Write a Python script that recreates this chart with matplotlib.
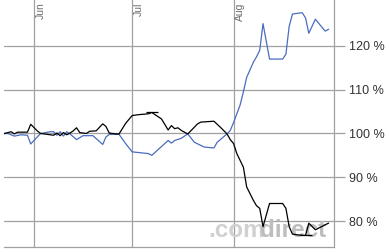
import numpy as np
import pandas as pd
import matplotlib
matplotlib.use("Agg")
import matplotlib.pyplot as plt
import matplotlib.dates as mdates

# ---- DATA (% of start value) ----
black_dates = [
    "2011-05-23", "2011-05-24", "2011-05-25", "2011-05-26", "2011-05-27", "2011-05-30",
    "2011-05-31", "2011-06-02", "2011-06-03", "2011-06-04", "2011-06-06", "2011-06-07",
    "2011-06-08", "2011-06-09", "2011-06-10", "2011-06-11", "2011-06-12", "2011-06-13",
    "2011-06-14", "2011-06-15", "2011-06-17", "2011-06-18", "2011-06-20", "2011-06-22",
    "2011-06-23", "2011-06-24", "2011-06-26", "2011-06-27", "2011-06-29", "2011-07-01",
    "2011-07-03", "2011-07-06", "2011-07-07", "2011-07-10", "2011-07-12", "2011-07-13",
    "2011-07-14", "2011-07-15", "2011-07-16", "2011-07-18", "2011-07-21", "2011-07-22",
    "2011-07-26", "2011-07-28", "2011-07-30", "2011-07-31", "2011-08-01", "2011-08-02",
    "2011-08-04", "2011-08-05", "2011-08-07", "2011-08-08", "2011-08-09", "2011-08-10",
    "2011-08-12", "2011-08-16", "2011-08-17", "2011-08-18", "2011-08-19", "2011-08-21",
    "2011-08-23", "2011-08-24", "2011-08-26", "2011-08-30",
]
black_values = [
    100.0, 100.2, 100.4, 99.9, 100.3, 100.3,
    102.1, 100.6, 100.0, 99.9, 99.7, 99.6,
    100.1, 99.5, 100.2, 99.7, 100.1, 100.6,
    101.3, 100.2, 100.0, 100.5, 100.6, 102.2,
    101.6, 100.1, 99.9, 99.9, 102.3, 104.1,
    104.3, 104.5, 104.8, 103.3, 100.8, 101.8,
    101.1, 101.3, 100.7, 99.9, 102.2, 102.6,
    102.8, 101.4, 99.9, 98.6, 97.7, 95.4,
    92.3, 87.8, 84.8, 83.5, 82.9, 78.7,
    84.0, 84.0, 82.9, 78.7, 77.0, 76.8,
    76.7, 79.5, 78.0, 79.5,
]

blue_dates = [
    "2011-05-23", "2011-05-24", "2011-05-26", "2011-05-28", "2011-05-30", "2011-05-31",
    "2011-06-03", "2011-06-06", "2011-06-07", "2011-06-08", "2011-06-09", "2011-06-10",
    "2011-06-11", "2011-06-12", "2011-06-14", "2011-06-16", "2011-06-19", "2011-06-22",
    "2011-06-23", "2011-06-24", "2011-06-27", "2011-06-29", "2011-07-01", "2011-07-06",
    "2011-07-07", "2011-07-12", "2011-07-13", "2011-07-14", "2011-07-16", "2011-07-18",
    "2011-07-20", "2011-07-23", "2011-07-26", "2011-07-27", "2011-07-30", "2011-07-31",
    "2011-08-01", "2011-08-02", "2011-08-03", "2011-08-04", "2011-08-05", "2011-08-07",
    "2011-08-08", "2011-08-09", "2011-08-10", "2011-08-12", "2011-08-16", "2011-08-17",
    "2011-08-18", "2011-08-19", "2011-08-22", "2011-08-23", "2011-08-24", "2011-08-26",
    "2011-08-29", "2011-08-30",
]
blue_values = [
    100.0, 100.0, 99.4, 99.7, 99.6, 97.6,
    100.0, 100.4, 100.4, 99.6, 100.4, 99.4,
    100.4, 99.9, 98.6, 99.5, 99.5, 97.5,
    99.2, 99.8, 99.8, 97.7, 95.8, 95.4,
    95.0, 98.4, 97.8, 98.4, 98.9, 99.9,
    98.0, 96.9, 96.7, 98.0, 99.9, 100.7,
    102.5, 104.5, 106.5, 109.5, 112.8, 116.2,
    117.5, 119.0, 125.1, 117.0, 117.0, 118.1,
    124.5, 127.3, 127.6, 126.4, 122.9, 126.1,
    123.4, 123.8,
]

month_ticks = ["2011-06-01", "2011-07-01", "2011-08-01"]
month_labels = ["Jun", "Jul", "Aug"]
pct_ticks = [80, 90, 100, 110, 120]

# ---- FIGURE ----
fig = plt.figure(figsize=(3.89, 2.52), dpi=100)
ax = fig.add_axes([4 / 389, 5 / 252, 330 / 389, 247 / 252])

bx = pd.to_datetime(black_dates)
ux = pd.to_datetime(blue_dates)
ax.plot(ux, blue_values, color="#4a6cc0", lw=0.9, zorder=3)
ax.plot(bx, black_values, color="black", lw=0.9, zorder=4)

# little high / low markers on the black line
bv = np.array(black_values)
for i in (bv.argmax(), bv.argmin()):
    ax.plot(bx[i], bv[i], marker="_", ms=8, mew=0.9, color="black", zorder=4)

x0 = pd.Timestamp("2011-06-01")
ax.set_xlim(mdates.date2num(x0) - 9.17, mdates.date2num(x0) + 91.7)
ax.set_ylim(74.06, 130.5)

grid_c = "#a0a0a0"
for d, lab in zip(month_ticks, month_labels):
    ax.axvline(pd.Timestamp(d), color=grid_c, lw=0.9, zorder=1)
    ax.text(pd.Timestamp(d) + pd.Timedelta(days=0.5), 130.0, lab, rotation=90,
            ha="left", va="top", fontsize=7.5, color="#6e6e6e",
            family="Liberation Sans")
for v in pct_ticks:
    ax.axhline(v, color=grid_c, lw=0.9, zorder=1)

ax.yaxis.tick_right()
ax.set_yticks(pct_ticks)
ax.set_yticklabels([f"{v} %" for v in pct_ticks], fontsize=9, color="#333333",
                   family="Liberation Sans")
ax.tick_params(axis="y", length=8, width=0.9, color=grid_c, pad=3)
ax.set_xticks([])

for s in ("left", "top"):
    ax.spines[s].set_visible(False)
for s in ("right", "bottom"):
    ax.spines[s].set_color(grid_c)
    ax.spines[s].set_linewidth(0.9)

# watermark
ax.text(0.618, 0.04, ".com", transform=ax.transAxes, fontsize=17.5, fontweight="bold",
        color="#d0d0d0", family="Liberation Sans", ha="left", va="baseline", zorder=2)
ax.text(0.775, 0.04, "direct", transform=ax.transAxes, fontsize=17.5, fontweight="bold",
        color="#bdbdbd", family="Liberation Sans", ha="left", va="baseline", zorder=2)

fig.savefig("out.png", dpi=100)
